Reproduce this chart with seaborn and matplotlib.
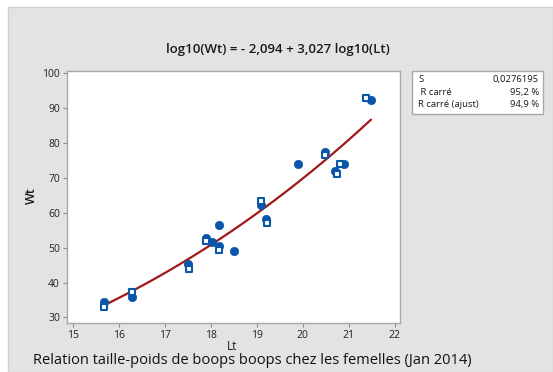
import numpy as np
import pandas as pd
import matplotlib
matplotlib.use("Agg")
import matplotlib.pyplot as plt
import seaborn as sns
from matplotlib.patches import Rectangle

# Observations (length Lt in cm, weight Wt in g)
lt_filled = [15.69, 16.30, 17.51, 17.90, 18.03, 18.19, 18.19, 18.50, 19.09, 19.19, 19.90, 20.48, 20.69, 20.89, 21.48]
wt_filled = [34.3, 35.9, 45.2, 52.9, 51.5, 56.5, 50.5, 49.0, 62.3, 58.1, 74.0, 77.3, 71.9, 74.0, 92.4]
lt_open = [15.69, 16.30, 17.53, 17.90, 18.19, 19.09, 19.23, 20.48, 20.74, 20.80, 21.37]
wt_open = [33.0, 37.4, 44.0, 51.9, 49.4, 63.5, 57.1, 76.6, 71.0, 74.0, 92.9]

# Fitted log-log regression
intercept = -2.094
slope = 3.027
stat_names = ["S", " R carré", "R carré (ajust)"]
stat_values = ["0,0276195", "95,2 %", "94,9 %"]

x_ticks = [15, 16, 17, 18, 19, 20, 21, 22]
y_ticks = [30, 40, 50, 60, 70, 80, 90, 100]

title = "log10(Wt) = - 2,094 + 3,027 log10(Lt)"
caption = "Relation taille-poids de boops boops chez les femelles (Jan 2014)"

sns.set_style("white")
plt.rcParams["font.family"] = ["Open Sans", "DejaVu Sans"]

blue = "#0a56a8"
red = "#a01818"
panel = "#e3e3e3"

fig = plt.figure(figsize=(5.53, 3.72), dpi=100)
fig.patch.set_facecolor("white")
W, H = 553, 372
fig.patches.append(Rectangle((8 / W, 0), 1 - 8 / W, 1 - 7 / H, transform=fig.transFigure,
                             facecolor=panel, edgecolor="#cfcfcf", linewidth=1, zorder=-10))

ax = fig.add_axes([67 / W, 1 - 323 / H, 333 / W, (323 - 70.7) / H])
ax.set_facecolor("white")

df_f = pd.DataFrame({"Lt": lt_filled, "Wt": wt_filled})
df_o = pd.DataFrame({"Lt": lt_open, "Wt": wt_open})
all_lt = np.array(lt_filled + lt_open)
fit_x = np.linspace(all_lt.min(), all_lt.max(), 100)
df_fit = pd.DataFrame({"Lt": fit_x, "Wt": 10 ** intercept * fit_x ** slope})

sns.lineplot(data=df_fit, x="Lt", y="Wt", ax=ax, color=red, linewidth=1.6, zorder=2)
sns.scatterplot(data=df_f, x="Lt", y="Wt", ax=ax, marker="o", s=36, color=blue,
                edgecolor=blue, linewidth=0.5, zorder=3)
sns.scatterplot(data=df_o, x="Lt", y="Wt", ax=ax, marker="s", s=20, facecolor="white",
                edgecolor=blue, linewidth=1.5, zorder=4)

ax.set_xlim(14.88, 22.11)
ax.set_ylim(28.4, 100.75)
ax.set_xticks(x_ticks)
ax.set_yticks(y_ticks)
ax.tick_params(axis="both", which="major", length=3, width=0.8, color="#8a8a8a",
               labelsize=7.5, labelcolor="#222222", pad=2, bottom=True, left=True)
for s in ax.spines.values():
    s.set_color("#a8a8a8")
    s.set_linewidth(1.0)
ax.set_xlabel("")
ax.set_ylabel("")

fig.text(278 / W, 1 - 49 / H, title, ha="center", va="center", fontsize=9.5,
         fontweight="semibold", color="#1a1a1a")
fig.text(31 / W, 1 - 196 / H, "Wt", ha="center", va="center", rotation=90,
         fontsize=9, fontweight="semibold", color="#1a1a1a")
fig.text(232 / W, 1 - 347 / H, "Lt", ha="center", va="center", fontsize=8.5,
         color="#1a1a1a")
fig.text(33 / W, 1 - 361 / H, caption, ha="left", va="center", fontsize=10.5,
         fontweight="medium", color="#111111")

# Summary statistics box
fig.patches.append(Rectangle((412 / W, 1 - 114 / H), 131 / W, 43.5 / H, transform=fig.transFigure,
                             facecolor="white", edgecolor="#a8a8a8", linewidth=1, zorder=1))
rows_y = [79.3, 92.7, 104.3]
for name, val, yy in zip(stat_names, stat_values, rows_y):
    fig.text(418 / W, 1 - yy / H, name, ha="left", va="center", fontsize=6.8, color="#1a1a1a")
    fig.text(539 / W, 1 - yy / H, val, ha="right", va="center", fontsize=6.8, color="#1a1a1a")

fig.savefig("out.png", dpi=100)
